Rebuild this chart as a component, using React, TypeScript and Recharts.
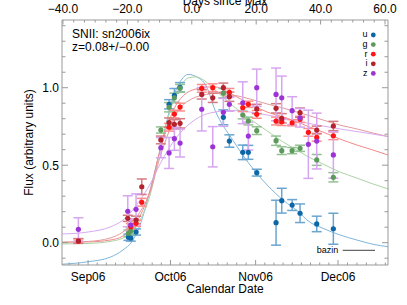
import React from 'react';
import { ComposedChart, Line, Scatter, XAxis, YAxis, ErrorBar } from 'recharts';

// ---------- observations (calendar day, 0 = 2006-09-01) ----------
const uDay = [14.67, 15.54, 17.47, 29.49, 31.42, 33.49, 49.25, 51.44, 56.32, 58.35, 61.41, 68.44, 70.51, 74.3, 77.18, 83.25, 89.3];
const uFlux = [0.035, 0.030, 0.069, 0.893, 0.95, 1.003, 0.809, 0.656, 0.583, 0.583, 0.452, 0.129, 0.271, 0.243, 0.190, 0.121, 0.090];
const uErr = [0.02, 0.02, 0.02, 0.03, 0.045, 0.03, 0.048, 0.04, 0.047, 0.045, 0.022, 0.145, 0.08, 0.035, 0.06, 0.05, 0.1];

const gDay = [14.67, 15.54, 26.5, 29.49, 31.42, 33.49, 49.25, 56.32, 58.35, 61.41, 68.44, 70.51, 74.3, 77.18, 83.25, 89.3];
const gFlux = [0.061, 0.075, 0.727, 0.874, 0.935, 0.996, 0.965, 0.824, 0.785, 0.723, 0.658, 0.594, 0.594, 0.609, 0.534, 0.422];
const gErr = [0.02, 0.02, 0.02, 0.03, 0.03, 0.025, 0.03, 0.025, 0.025, 0.025, 0.03, 0.025, 0.02, 0.02, 0.035, 0.03];

const rDay = [-3.53, 15.54, 17.47, 19.55, 29.49, 31.42, 33.49, 41.39, 45.39, 51.44, 56.32, 58.35, 61.41, 68.44, 70.51, 74.3, 77.18, 80.2, 83.25, 89.3];
const rFlux = [0.011, 0.103, 0.125, 0.261, 0.745, 0.830, 0.875, 0.996, 1.0, 0.970, 0.871, 0.893, 0.828, 0.785, 0.781, 0.774, 0.796, 0.712, 0.680, 0.690];
const rErr = [0.015, 0.02, 0.02, 0.025, 0.025, 0.025, 0.025, 0.025, 0.025, 0.025, 0.025, 0.02, 0.025, 0.025, 0.025, 0.02, 0.02, 0.025, 0.025, 0.025];

const iDay = [-3.53, 14.45, 17.47, 19.55, 26.5, 29.49, 31.42, 33.49, 41.39, 45.39, 49.25, 51.44, 61.41, 68.44, 70.51, 77.18, 83.25, 89.3];
const iFlux = [0.011, 0.157, 0.146, 0.361, 0.663, 0.775, 0.764, 0.770, 0.957, 0.935, 1.0, 0.942, 0.863, 0.867, 0.803, 0.839, 0.727, 0.753];
const iErr = [0.015, 0.02, 0.025, 0.05, 0.025, 0.03, 0.03, 0.03, 0.03, 0.03, 0.03, 0.03, 0.03, 0.03, 0.03, 0.03, 0.025, 0.03];

const zDay = [-3.53, 14.45, 15.54, 17.47, 26.5, 29.49, 31.42, 33.49, 41.39, 45.39, 49.25, 51.44, 56.32, 58.35, 61.41, 68.44, 70.51, 74.3, 77.18, 80.2, 83.25, 89.3];
const zFlux = [0.086, 0.203, 0.114, 0.215, 0.613, 0.579, 0.671, 0.643, 0.861, 0.619, 0.841, 0.893, 0.903, 0.688, 1.0, 0.957, 0.935, 0.852, 0.806, 0.635, 0.656, 0.566];
const zErr = [0.075, 0.1, 0.04, 0.1, 0.065, 0.1, 0.075, 0.09, 0.14, 0.13, 0.09, 0.045, 0.135, 0.09, 0.12, 0.17, 0.14, 0.09, 0.06, 0.22, 0.18, 0.15];

// ---------- bazin fit curves ----------
const fitDay = [-9.5, 0, 8, 12.7, 16, 18.9, 22.6, 26.2, 29.1, 32, 34.2, 36.4, 39.3, 43, 46.2, 52.8, 59, 65.2, 71, 77.2, 79.7, 85.5, 91.7, 97.9, 103.7, 109.2];
const uFit = [-0.139, -0.123, -0.094, -0.047, 0.008, 0.114, 0.340, 0.598, 0.817, 0.985, 1.056, 1.086, 1.072, 1.011, 0.856, 0.659, 0.501, 0.372, 0.275, 0.190, 0.146, 0.093, 0.050, 0.017, -0.010, -0.026];
const gFit = [-0.008, -0.005, 0.008, 0.030, 0.069, 0.146, 0.308, 0.598, 0.804, 0.958, 1.024, 1.063, 1.070, 1.037, 0.985, 0.882, 0.798, 0.721, 0.650, 0.585, 0.559, 0.508, 0.456, 0.417, 0.379, 0.347];
const rFit = [0.003, 0.005, 0.017, 0.043, 0.095, 0.172, 0.340, 0.598, 0.766, 0.888, 0.940, 0.972, 0.992, 1.005, 1.005, 0.953, 0.895, 0.843, 0.811, 0.772, 0.753, 0.714, 0.669, 0.630, 0.598, 0.566];
const iFit = [0.003, 0.008, 0.030, 0.069, 0.121, 0.198, 0.327, 0.553, 0.701, 0.830, 0.882, 0.914, 0.940, 0.956, 0.963, 0.953, 0.927, 0.895, 0.869, 0.837, 0.824, 0.792, 0.759, 0.734, 0.708, 0.685];
const zFit = [0.056, 0.069, 0.101, 0.146, 0.205, 0.275, 0.378, 0.508, 0.598, 0.675, 0.721, 0.759, 0.798, 0.830, 0.843, 0.853, 0.843, 0.824, 0.805, 0.781, 0.772, 0.753, 0.734, 0.717, 0.701, 0.685];

// ---------- axes ----------
const monthStarts = [-31, 0, 30, 61, 91, 122];
const monthTicks = [0, 30, 61, 91];
const monthLabels = ['Sep06', 'Oct06', 'Nov06', 'Dec06'];
const topMajor = [-40, -20, 0, 20, 40, 60];
const yTicks = [-0.1, 0, 0.1, 0.2, 0.3, 0.4, 0.5, 0.6, 0.7, 0.8, 0.9, 1.0, 1.1, 1.2, 1.3, 1.4];
const yLabelTicks = [0, 0.5, 1.0];
const bands = ['u', 'g', 'r', 'i', 'z'];

const CAL_DOMAIN: [number, number] = [-9.5, 109.2];
const TOP_DOMAIN: [number, number] = [-40.3, 60.93];
const Y_DOMAIN: [number, number] = [-0.144, 1.437];

const FONT = '"Liberation Sans", Arial, Helvetica, sans-serif';
const FRAME = '#999999';

const COLORS: Record<string, { dot: string; line: string; err: string }> = {
  u: { dot: '#0d67a6', line: '#7fb6dc', err: '#6aa6d0' },
  g: { dot: '#5c9a5c', line: '#aed3a6', err: '#93c193' },
  r: { dot: '#ff1414', line: '#f58a8a', err: '#ff8c8c' },
  i: { dot: '#b3222d', line: '#e39a9e', err: '#d57a80' },
  z: { dot: '#9c33d6', line: '#d9a9f0', err: '#d6a6f0' },
};

const calTicks: number[] = [];
for (let m = 0; m < monthStarts.length - 1; m++) {
  const a = monthStarts[m];
  const b = monthStarts[m + 1];
  for (let k = 0; k < 9; k++) {
    const v = k === 0 ? a : a + ((b - a) * k) / 9;
    if (v >= CAL_DOMAIN[0] && v <= CAL_DOMAIN[1]) calTicks.push(v);
  }
}
const topTicks: number[] = [];
for (let k = 0; k <= 30; k++) topTicks.push(-40 + (k * 10) / 3);

const mk = (d: number[], f: number[], e?: number[]) =>
  d.map((x, i) => (e ? { x, y: f[i], e: e[i] } : { x, y: f[i] }));

const obs: Record<string, any[]> = {
  u: mk(uDay, uFlux, uErr),
  g: mk(gDay, gFlux, gErr),
  r: mk(rDay, rFlux, rErr),
  i: mk(iDay, iFlux, iErr),
  z: mk(zDay, zFlux, zErr),
};
const fits: Record<string, any[]> = {
  u: mk(fitDay, uFit),
  g: mk(fitDay, gFit),
  r: mk(fitDay, rFit),
  i: mk(fitDay, iFit),
  z: mk(fitDay, zFit),
};

// plot box: left 62, right 388, top 20, bottom 265
const PLOT_BOTTOM = 265;
const PLOT_TOP = 20;
const PLOT_LEFT = 62;
const PLOT_RIGHT = 388;

const CalTick = (p: any) => {
  const { x, payload } = p;
  const y = PLOT_BOTTOM;
  const idx = monthTicks.indexOf(payload.value);
  const major = idx >= 0;
  return (
    <g>
      <line x1={x} x2={x} y1={y} y2={y - (major ? 5 : 2.5)} stroke={FRAME} />
      {major && (
        <text x={x} y={y + 16} textAnchor="middle" fontSize={12} fontFamily={FONT} fill="#000">
          {monthLabels[idx]}
        </text>
      )}
    </g>
  );
};

const TopTick = (p: any) => {
  const { x, payload } = p;
  const y = PLOT_TOP;
  const v = payload.value;
  const major = topMajor.some((m) => Math.abs(m - v) < 1e-6);
  const label = (v < -1e-9 ? '\u2212' : '') + Math.abs(v).toFixed(1);
  return (
    <g>
      <line x1={x} x2={x} y1={y} y2={y + (major ? 4.5 : 2.5)} stroke={FRAME} />
      {major && (
        <text x={x} y={y - 7} textAnchor="middle" fontSize={12} fontFamily={FONT} fill="#000">
          {label}
        </text>
      )}
    </g>
  );
};

const LeftTick = (p: any) => {
  const { y, payload } = p;
  const x = PLOT_LEFT;
  const v = payload.value;
  const major = yLabelTicks.some((m) => Math.abs(m - v) < 1e-6);
  return (
    <g>
      <line x1={x} x2={x + (major ? 6 : 3.5)} y1={y} y2={y} stroke={FRAME} />
      {major && (
        <text x={x - 3} y={y + 4.3} textAnchor="end" fontSize={12} fontFamily={FONT} fill="#000">
          {v.toFixed(1)}
        </text>
      )}
    </g>
  );
};

const RightTick = (p: any) => {
  const { y, payload } = p;
  const x = PLOT_RIGHT;
  const v = payload.value;
  const major = yLabelTicks.some((m) => Math.abs(m - v) < 1e-6);
  return <line x1={x} x2={x - (major ? 6 : 3.5)} y1={y} y2={y} stroke={FRAME} />;
};

const dotShape = (color: string) => (p: any) =>
  p.cx == null ? <g /> : <circle cx={p.cx} cy={p.cy} r={2.6} fill={color} />;

const legendRows = [35, 44.6, 54.2, 63.8, 73.4];

export default function App() {
  return (
    <div style={{ position: 'absolute', left: 0, top: 0, width: 407, height: 305, background: '#fff' }}>
      <ComposedChart
        width={407}
        height={305}
        margin={{ top: 10, right: 9, bottom: 30, left: 52 }}
      >
        <XAxis
          xAxisId="cal"
          type="number"
          dataKey="x"
          scale="linear"
          domain={CAL_DOMAIN}
          allowDataOverflow
          ticks={calTicks}
          interval={0}
          tick={CalTick}
          tickLine={false}
          height={10}
          axisLine={{ stroke: FRAME }}
          orientation="bottom"
        />
        <XAxis
          xAxisId="top"
          type="number"
          dataKey="x"
          scale="linear"
          domain={TOP_DOMAIN}
          allowDataOverflow
          ticks={topTicks}
          interval={0}
          tick={TopTick}
          tickLine={false}
          height={10}
          axisLine={{ stroke: FRAME }}
          orientation="top"
        />
        <YAxis
          yAxisId="l"
          type="number"
          dataKey="y"
          scale="linear"
          domain={Y_DOMAIN}
          allowDataOverflow
          ticks={yTicks}
          interval={0}
          tick={LeftTick}
          tickLine={false}
          width={10}
          axisLine={{ stroke: FRAME }}
          orientation="left"
        />
        <YAxis
          yAxisId="r"
          type="number"
          dataKey="y"
          scale="linear"
          domain={Y_DOMAIN}
          allowDataOverflow
          ticks={yTicks}
          interval={0}
          tick={RightTick}
          tickLine={false}
          width={10}
          axisLine={{ stroke: FRAME }}
          orientation="right"
        />
        {bands.map((b) => (
          <Line
            key={'fit-' + b}
            xAxisId="cal"
            yAxisId="l"
            data={fits[b]}
            dataKey="y"
            type="monotone"
            stroke={COLORS[b].line}
            strokeWidth={1}
            dot={false}
            activeDot={false}
            isAnimationActive={false}
          />
        ))}
        {bands.map((b) => (
          <Scatter
            key={'obs-' + b}
            xAxisId="cal"
            yAxisId="l"
            data={obs[b]}
            dataKey="y"
            shape={dotShape(COLORS[b].dot)}
            isAnimationActive={false}
          >
            <ErrorBar dataKey="e" direction="y" width={5} stroke={COLORS[b].err} strokeWidth={1.5} isAnimationActive={false} />
          </Scatter>
        ))}
      </ComposedChart>
      <svg
        width={407}
        height={305}
        style={{ position: 'absolute', left: 0, top: 0, pointerEvents: 'none' }}
        fontFamily={FONT}
      >
        <text x={225} y={4.7} textAnchor="middle" fontSize={12} fill="#000">Days since Max</text>
        <text x={225} y={292.5} textAnchor="middle" fontSize={12} fill="#000">Calendar Date</text>
        <text x={33} y={142.5} textAnchor="middle" fontSize={12} fill="#000" transform="rotate(-90 33 142.5)">
          Flux (arbitrary units)
        </text>
        <text x={72} y={38.3} fontSize={12} fill="#000">SNII: sn2006ix</text>
        <text x={72} y={50.5} fontSize={12} fill="#000">z=0.08+/{'\u2212'}0.00</text>
        {bands.map((b, i) => (
          <g key={'leg-' + b}>
            <text x={367.5} y={legendRows[i] + 2.4} textAnchor="end" fontSize={9} fill="#000">{b}</text>
            <circle cx={373.3} cy={legendRows[i]} r={2.4} fill={COLORS[b].dot} />
          </g>
        ))}
        <text x={316.7} y={253} fontSize={9} fill="#000">bazin</text>
        <line x1={342.7} x2={375} y1={250.3} y2={250.3} stroke="#444" strokeWidth={1} />
      </svg>
    </div>
  );
}
